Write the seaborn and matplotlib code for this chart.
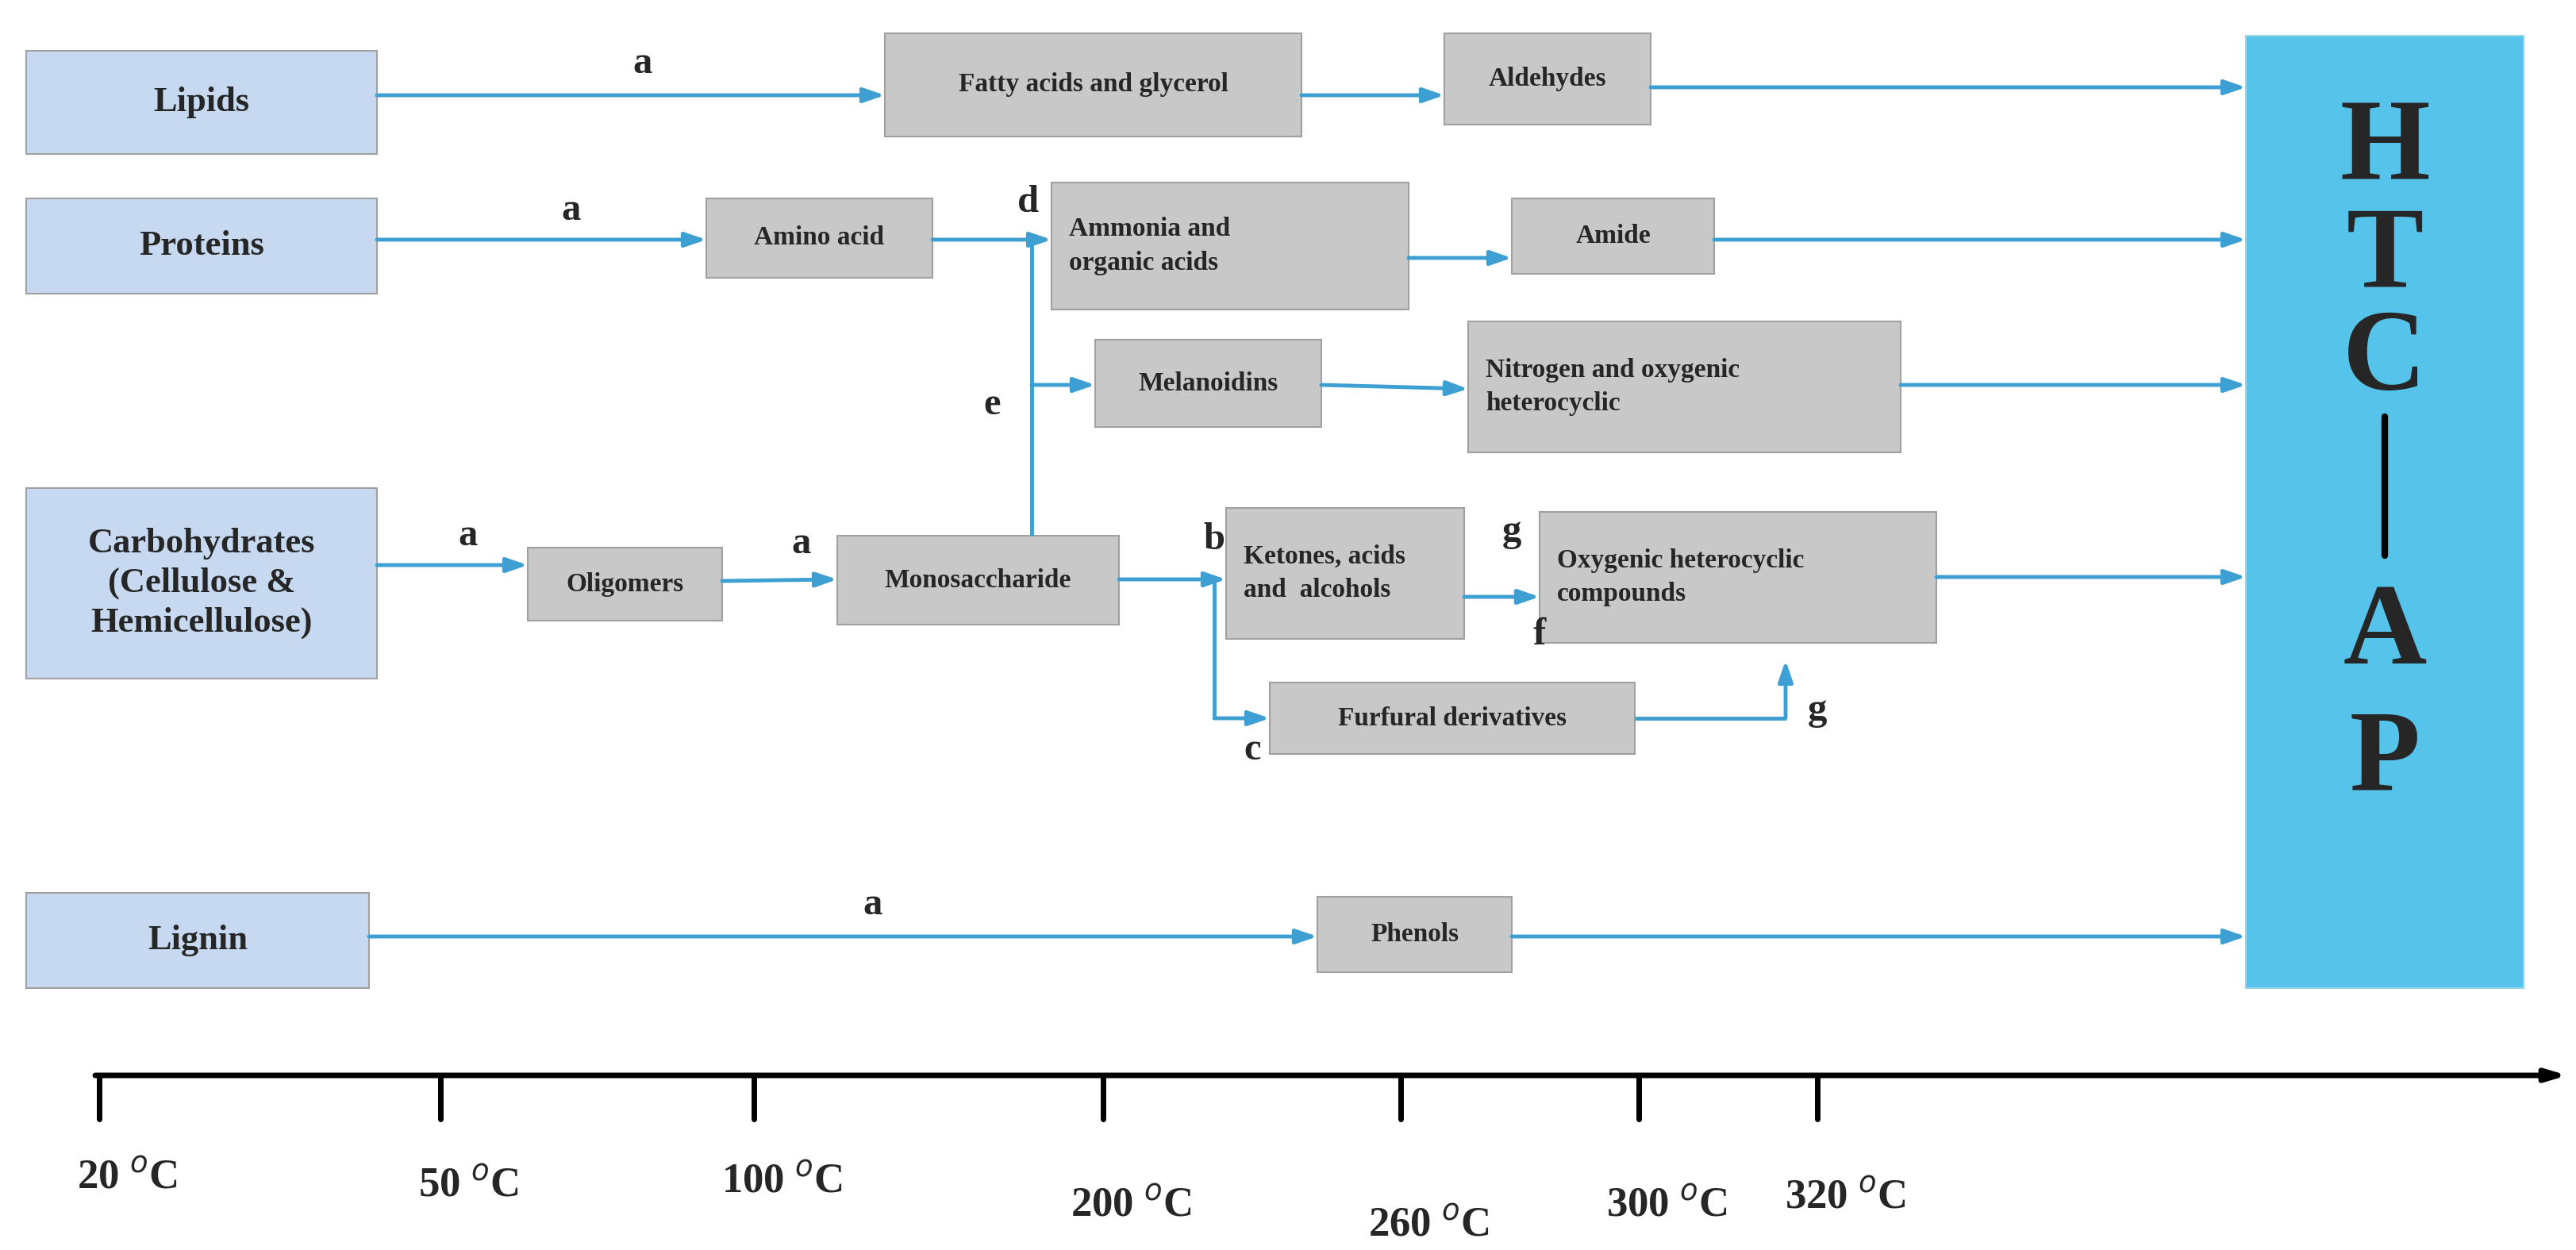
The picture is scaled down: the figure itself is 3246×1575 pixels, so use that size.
import matplotlib
matplotlib.use("Agg")
import matplotlib.pyplot as plt
from matplotlib.patches import Rectangle
import seaborn as sns

sns.set_style("white")
plt.rcParams['font.family'] = ['Liberation Serif', 'DejaVu Serif']
plt.rcParams['mathtext.fontset'] = 'custom'
plt.rcParams['mathtext.rm'] = 'Liberation Serif:bold'
plt.rcParams['mathtext.bf'] = 'Liberation Serif:bold'

# ---- content ----
source_labels = ["Lipids", "Proteins", "Carbohydrates\n(Cellulose &\nHemicellulose)", "Lignin"]
source_boxes = [(33, 64, 442, 130), (33, 250, 442, 120), (33, 615, 442, 240), (33, 1125, 432, 120)]

inter_labels = ["Fatty acids and glycerol", "Aldehydes", "Amino acid", "Ammonia and\norganic acids",
                "Amide", "Melanoidins", "Nitrogen and oxygenic\nheterocyclic", "Oligomers",
                "Monosaccharide", "Ketones, acids\nand  alcohols", "Oxygenic heterocyclic\ncompounds",
                "Furfural derivatives", "Phenols"]
inter_boxes = [(1115, 42, 525, 130), (1820, 42, 260, 115), (890, 250, 285, 100), (1325, 230, 450, 160),
               (1905, 250, 255, 95), (1380, 428, 285, 110), (1850, 405, 545, 165), (665, 690, 245, 92),
               (1055, 675, 355, 112), (1545, 640, 300, 165), (1940, 645, 500, 165),
               (1600, 860, 460, 90), (1660, 1130, 245, 95)]
inter_align = ['center', 'center', 'center', 'left', 'center', 'center', 'left', 'center',
               'center', 'left', 'left', 'center', 'center']

product_letters = ["H", "T", "C", "A", "P"]
product_y = [190, 325, 455, 800, 960]

arrows = [((475, 120), (1115, 120)), ((1640, 120), (1820, 120)), ((2080, 110), (2830, 110)),
          ((475, 302), (890, 302)), ((1175, 302), (1325, 302)), ((1300, 485), (1380, 485)),
          ((1775, 325), (1905, 325)), ((2160, 302), (2830, 302)), ((1665, 485), (1850, 490)),
          ((2395, 485), (2830, 485)), ((475, 712), (665, 712)), ((910, 732), (1055, 730)),
          ((1410, 730), (1545, 730)), ((1530, 905), (1600, 905)), ((1845, 752), (1940, 752)),
          ((2250, 905), (2250, 832)), ((2440, 727), (2830, 727)), ((465, 1180), (1660, 1180)),
          ((1905, 1180), (2830, 1180))]
lines = [((1300, 302), (1300, 675)), ((1530, 730), (1530, 905)), ((2060, 905), (2250, 905))]

step_letters = ["a", "a", "d", "e", "a", "a", "b", "c", "g", "f", "g", "a"]
step_pos = [(810, 80), (720, 265), (1295, 255), (1250, 510), (590, 675), (1010, 685), (1530, 680),
            (1578, 945), (1905, 670), (1940, 800), (2290, 895), (1100, 1140)]

temp_labels = ["20", "50", "100", "200", "260", "300", "320"]
temp_x = [125, 555, 950, 1390, 1765, 2065, 2290]
temp_label_y = [1485, 1495, 1490, 1520, 1545, 1520, 1510]

# ---- drawing ----
W, H = 3246, 1575
fig = plt.figure(figsize=(W / 100, H / 100), dpi=100)
ax = fig.add_axes([0, 0, 1, 1])
ax.set_xlim(0, W)
ax.set_ylim(H, 0)
ax.axis('off')

for lab, (x, y, w, h) in zip(source_labels, source_boxes):
    ax.add_patch(Rectangle((x, y), w, h, facecolor='#c6d9f1', edgecolor='#a0a0a0', lw=1.5))
    ax.text(x + w / 2, y + h / 2, lab, ha='center', va='center', fontsize=32, fontweight='bold',
            linespacing=1.3)

for lab, (x, y, w, h), al in zip(inter_labels, inter_boxes, inter_align):
    ax.add_patch(Rectangle((x, y), w, h, facecolor='#c8c8c8', edgecolor='#a0a0a0', lw=1.5))
    if al == 'center':
        ax.text(x + w / 2, y + h / 2, lab, ha='center', va='center', fontsize=24, fontweight='bold',
                linespacing=1.5)
    else:
        ax.text(x + 22, y + h / 2, lab, ha='left', va='center', fontsize=24, fontweight='bold',
                linespacing=1.5)

ax.add_patch(Rectangle((2830, 45), 350, 1200, facecolor='#55c3ea', edgecolor='#9ad4ea', lw=1.5))
for l, yy in zip(product_letters, product_y):
    ax.text(3005, yy, l, ha='center', va='center', fontsize=105, fontweight='bold')
ax.plot([3005, 3005], [525, 700], color='black', lw=6)

acol = '#3d9fd2'
for (x0, y0), (x1, y1) in arrows:
    ax.annotate('', xy=(x1, y1), xytext=(x0, y0),
                arrowprops=dict(arrowstyle='-|>,head_length=1.6,head_width=0.55', color=acol, lw=3.5,
                                shrinkA=0, shrinkB=0))
for (x0, y0), (x1, y1) in lines:
    ax.plot([x0, x1], [y0, y1], color=acol, lw=3.5, solid_capstyle='butt')

for l, (x, y) in zip(step_letters, step_pos):
    ax.text(x, y, l, ha='center', va='center', fontsize=35, fontweight='bold')

ax.annotate('', xy=(3235, 1355), xytext=(120, 1355),
            arrowprops=dict(arrowstyle='-|>,head_length=1.5,head_width=0.45', color='black', lw=5,
                            shrinkA=0, shrinkB=0))
for t, x, ly in zip(temp_labels, temp_x, temp_label_y):
    ax.plot([x, x], [1355, 1410], color='black', lw=5)
    ax.text(x + 35, ly, t + r' $^{o}$C', ha='center', va='center', fontsize=38, fontweight='bold')

fig.savefig('out.png', dpi=100)
